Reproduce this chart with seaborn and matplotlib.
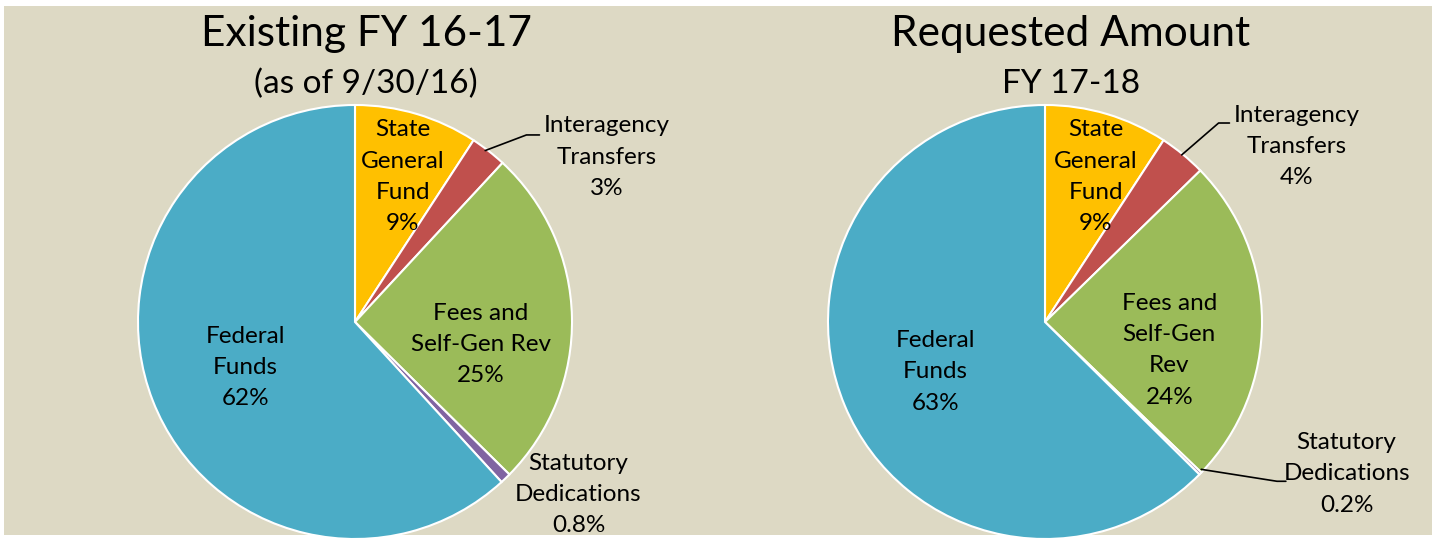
import numpy as np
import seaborn as sns
import matplotlib.pyplot as plt
from matplotlib.patches import Rectangle

sns.set_style('white')
plt.rcParams['font.family'] = ['Lato', 'DejaVu Sans']
plt.rcParams['text.color'] = 'black'

# slice order: clockwise from 12 o'clock
categories = ['State General Fund', 'Interagency Transfers', 'Fees and Self-Gen Rev',
              'Statutory Dedications', 'Federal Funds']
existing = [9.2, 2.7, 25.5, 0.8, 61.8]
requested = [9.2, 3.5, 24.5, 0.2, 62.6]
existing_pct = ['9%', '3%', '25%', '0.8%', '62%']
requested_pct = ['9%', '4%', '24%', '0.2%', '63%']
colors = sns.color_palette(['#FFC000', '#C0504D', '#9BBB59', '#8064A2', '#4BACC6'])

W, H = 1432, 540
fig = plt.figure(figsize=(W / 100, H / 100), dpi=100, facecolor='white')
fig.patches.append(Rectangle((4 / W, 5 / H), 1, 529 / H, transform=fig.transFigure,
                             facecolor='#DDD9C4', edgecolor='none', zorder=-10))

R = 217


def pie_axes(cx, cy):
    ax = fig.add_axes([(cx - R) / W, (H - cy - R) / H, 2 * R / W, 2 * R / H])
    ax.patch.set_visible(False)
    return ax


def draw(ax, values):
    ax.pie(values, colors=colors, startangle=90, counterclock=False, radius=1,
           wedgeprops=dict(edgecolor='white', linewidth=1.5))
    ax.set_xlim(-1, 1)
    ax.set_ylim(-1, 1)
    ax.axis('off')


fs = 17.5
ls = 1.6
# left
ax1 = pie_axes(355, 322)
draw(ax1, existing)
lab1 = [('State\nGeneral\nFund\n' + existing_pct[0], 0.22, 0.67),
        ('Interagency\nTransfers\n' + existing_pct[1], 1.16, 0.76),
        ('Fees and\nSelf-Gen Rev\n' + existing_pct[2], 0.58, -0.105),
        ('Statutory\nDedications\n' + existing_pct[3], 1.03, -0.795),
        ('Federal\nFunds\n' + existing_pct[4], -0.505, -0.21)]
for t, x, y in lab1:
    ax1.text(x, y, t, ha='center', va='center', fontsize=fs, linespacing=ls, color='black')
ax1.plot([0.6, 0.79, 0.85], [0.79, 0.862, 0.862], color='black', lw=1.2, clip_on=False)

# right
ax2 = pie_axes(1045, 322)
draw(ax2, requested)
lab2 = [('State\nGeneral\nFund\n' + requested_pct[0], 0.234, 0.67),
        ('Interagency\nTransfers\n' + requested_pct[1], 1.16, 0.81),
        ('Fees and\nSelf-Gen\nRev\n' + requested_pct[2], 0.573, -0.13),
        ('Statutory\nDedications\n' + requested_pct[3], 1.39, -0.70),
        ('Federal\nFunds\n' + requested_pct[4], -0.505, -0.23)]
for t, x, y in lab2:
    ax2.text(x, y, t, ha='center', va='center', fontsize=fs, linespacing=ls, color='black')
ax2.plot([0.63, 0.80, 0.85], [0.77, 0.917, 0.917], color='black', lw=1.2, clip_on=False)
ax2.plot([0.72, 1.069, 1.11], [-0.679, -0.734, -0.734], color='black', lw=1.2, clip_on=False)

# titles
fig.text(366 / W, 1 - 46 / H, 'Existing FY 16-17', ha='center', va='baseline', fontsize=30.5)
fig.text(366 / W, 1 - 93 / H, '(as of 9/30/16)', ha='center', va='baseline', fontsize=24)
fig.text(1071 / W, 1 - 46 / H, 'Requested Amount', ha='center', va='baseline', fontsize=30.5)
fig.text(1071 / W, 1 - 93 / H, 'FY 17-18', ha='center', va='baseline', fontsize=24)

fig.savefig('out.png', dpi=100, facecolor=fig.get_facecolor())
